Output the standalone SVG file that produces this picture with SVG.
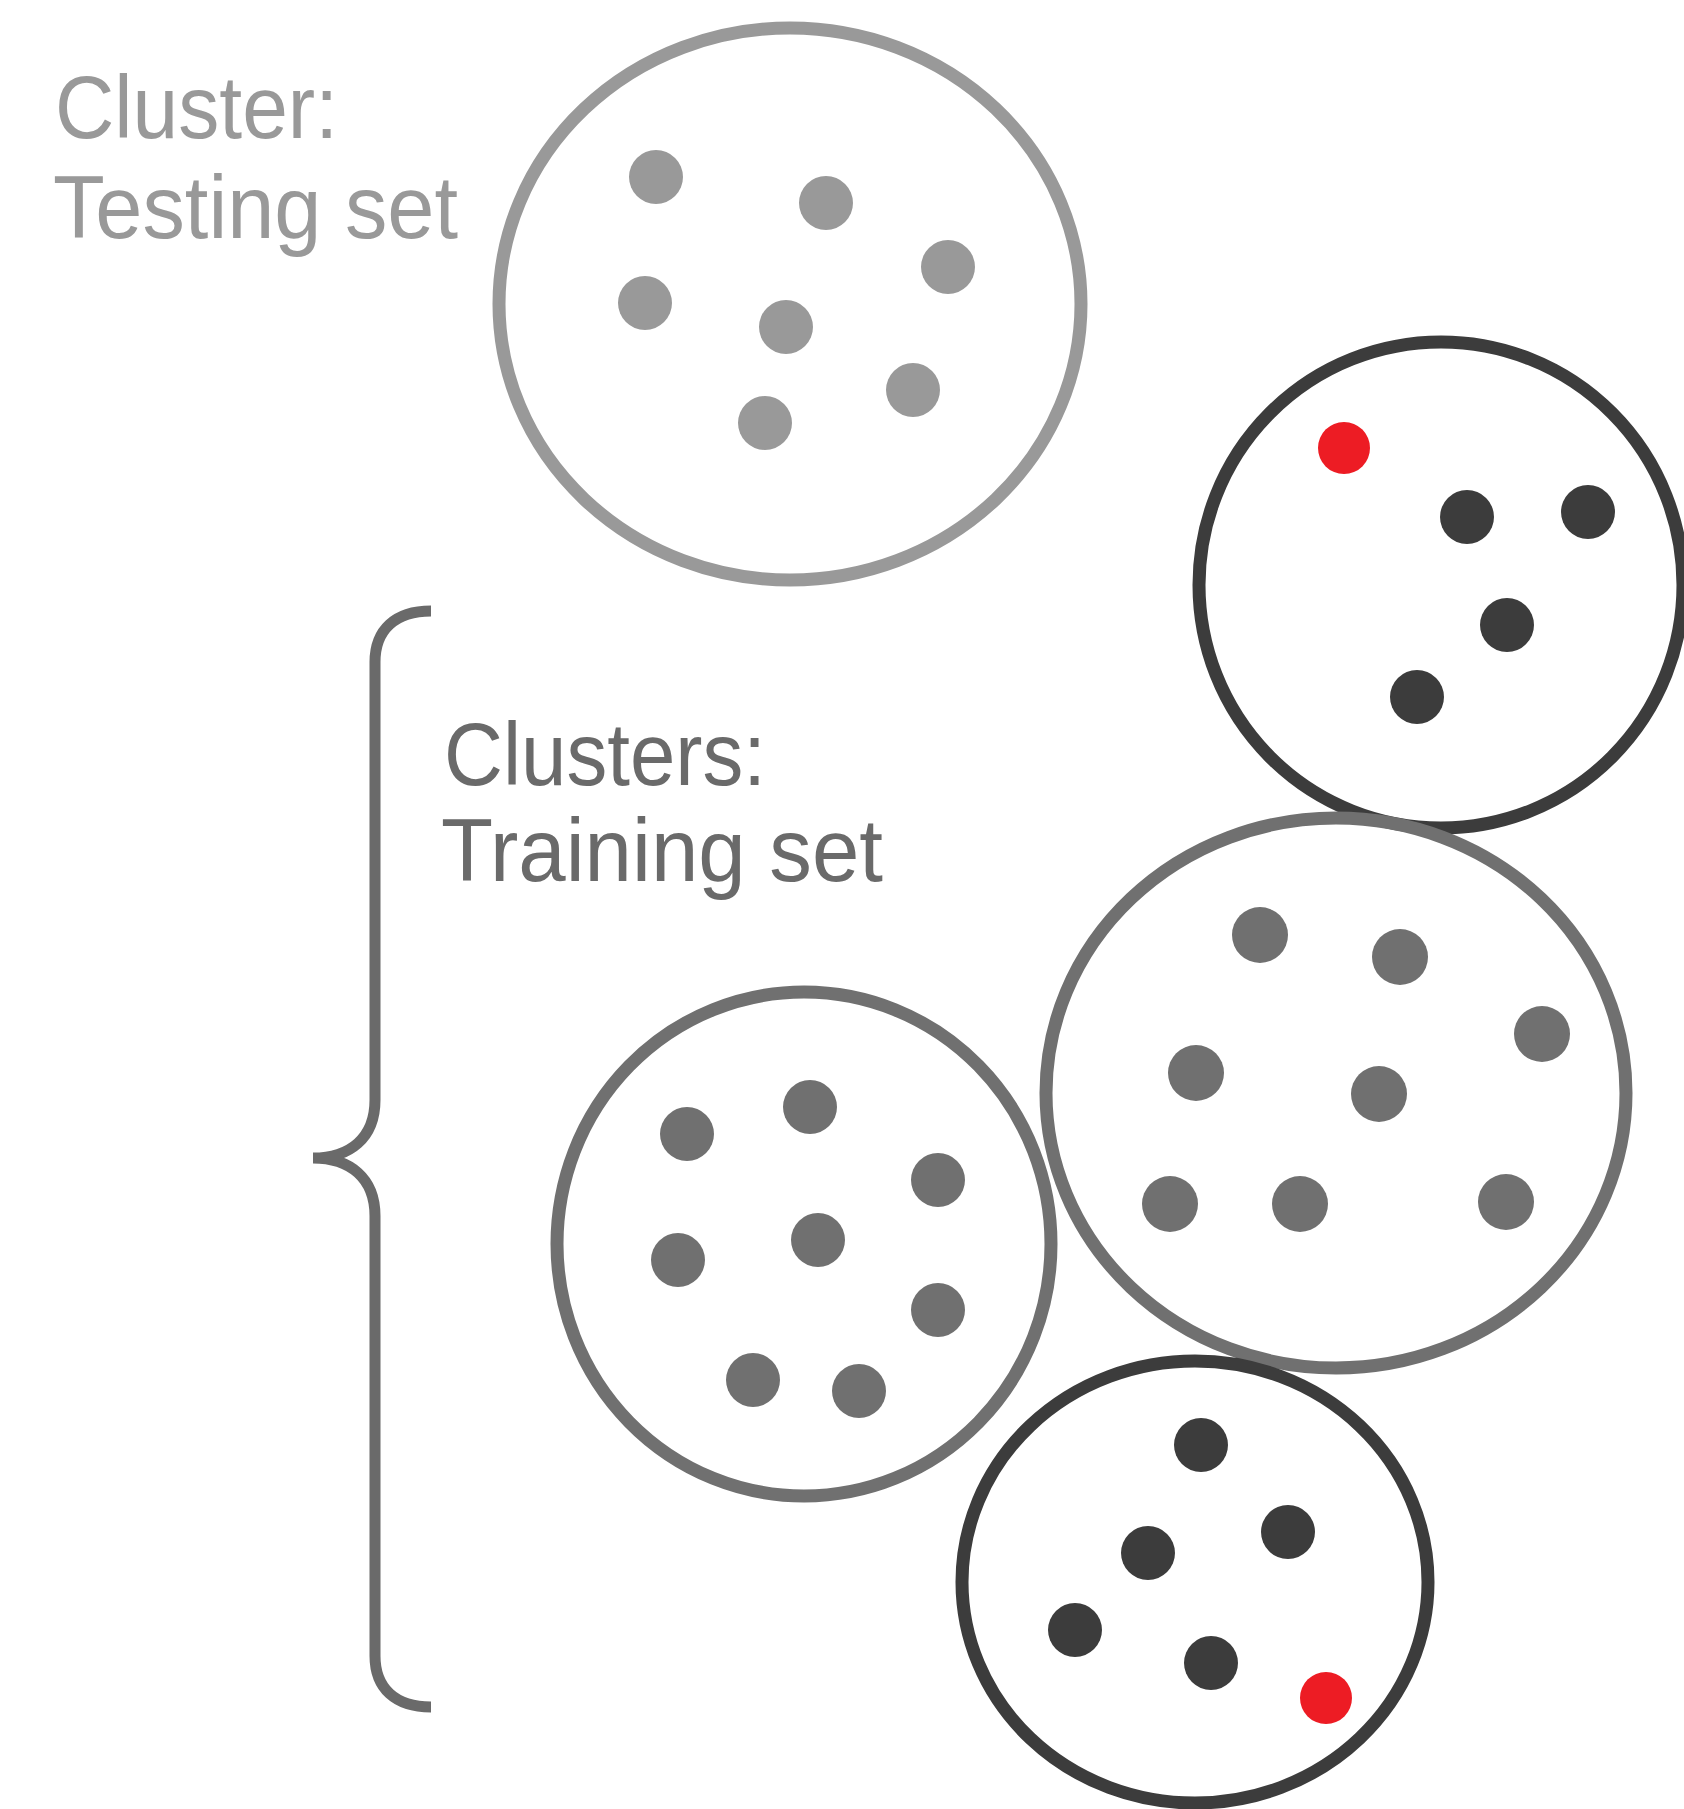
<svg xmlns="http://www.w3.org/2000/svg" width="1684" height="1809" viewBox="0 0 1684 1809">
<style>
.lbl{font-family:"Liberation Sans","DejaVu Sans",sans-serif;font-size:89px;}
.t1{fill:#999999;}
.t2{fill:#6a6a6a;}
.ring{fill:none;stroke-width:13;}
.light{stroke:#999999;}
.mid{stroke:#707070;}
.dark{stroke:#3c3c3c;}
.dl{fill:#999999;}
.dm{fill:#707070;}
.dd{fill:#3c3c3c;}
.dr{fill:#ed1c24;}
</style>
<rect width="1684" height="1809" fill="#ffffff"/>
<g id="label-testing">
<text class="lbl t1" x="55" y="138" textLength="283" lengthAdjust="spacingAndGlyphs">Cluster:</text>
<text class="lbl t1" x="53" y="238" textLength="405" lengthAdjust="spacingAndGlyphs">Testing set</text>
</g>
<g id="label-training">
<text class="lbl t2" x="444" y="785" textLength="322" lengthAdjust="spacingAndGlyphs">Clusters:</text>
<text class="lbl t2" x="441" y="881" textLength="442" lengthAdjust="spacingAndGlyphs">Training set</text>
</g>
<g id="connectors">
<path id="brace" d="M 431 611 C 395 611 375 630 375 662 L 375 1100 C 375 1138 350 1158 313 1158 C 350 1158 375 1178 375 1216 L 375 1656 C 375 1688 395 1707 431 1707" fill="none" stroke="#6a6a6a" stroke-width="11"/>
</g>
<g id="cluster-testing">
<ellipse class="ring light" cx="790" cy="304" rx="291" ry="276"/>
<circle class="dl" cx="656" cy="177" r="27"/>
<circle class="dl" cx="826" cy="203" r="27"/>
<circle class="dl" cx="948" cy="267" r="27"/>
<circle class="dl" cx="645" cy="303" r="27"/>
<circle class="dl" cx="786" cy="327" r="27"/>
<circle class="dl" cx="913" cy="390" r="27"/>
<circle class="dl" cx="765" cy="423" r="27"/>
</g>
<g id="cluster-train-1">
<ellipse class="ring dark" cx="1441" cy="585" rx="242" ry="243"/>
<circle class="dr" cx="1344" cy="448" r="26"/>
<circle class="dd" cx="1467" cy="517" r="27"/>
<circle class="dd" cx="1588" cy="512" r="27"/>
<circle class="dd" cx="1507" cy="625" r="27"/>
<circle class="dd" cx="1417" cy="697" r="27"/>
</g>
<g id="cluster-train-2">
<ellipse class="ring mid" cx="1336" cy="1093" rx="290" ry="275"/>
<circle class="dm" cx="1260" cy="935" r="28"/>
<circle class="dm" cx="1400" cy="957" r="28"/>
<circle class="dm" cx="1542" cy="1034" r="28"/>
<circle class="dm" cx="1196" cy="1073" r="28"/>
<circle class="dm" cx="1379" cy="1094" r="28"/>
<circle class="dm" cx="1170" cy="1204" r="28"/>
<circle class="dm" cx="1300" cy="1204" r="28"/>
<circle class="dm" cx="1506" cy="1202" r="28"/>
</g>
<g id="cluster-train-3">
<ellipse class="ring mid" cx="804" cy="1244" rx="247" ry="252"/>
<circle class="dm" cx="687" cy="1134" r="27"/>
<circle class="dm" cx="810" cy="1107" r="27"/>
<circle class="dm" cx="938" cy="1180" r="27"/>
<circle class="dm" cx="678" cy="1260" r="27"/>
<circle class="dm" cx="818" cy="1240" r="27"/>
<circle class="dm" cx="938" cy="1310" r="27"/>
<circle class="dm" cx="753" cy="1380" r="27"/>
<circle class="dm" cx="859" cy="1391" r="27"/>
</g>
<g id="cluster-train-4">
<ellipse class="ring dark" cx="1195" cy="1582" rx="233" ry="221"/>
<circle class="dd" cx="1201" cy="1445" r="27"/>
<circle class="dd" cx="1288" cy="1532" r="27"/>
<circle class="dd" cx="1148" cy="1553" r="27"/>
<circle class="dd" cx="1075" cy="1630" r="27"/>
<circle class="dd" cx="1211" cy="1663" r="27"/>
<circle class="dr" cx="1326" cy="1698" r="26"/>
</g>
</svg>
